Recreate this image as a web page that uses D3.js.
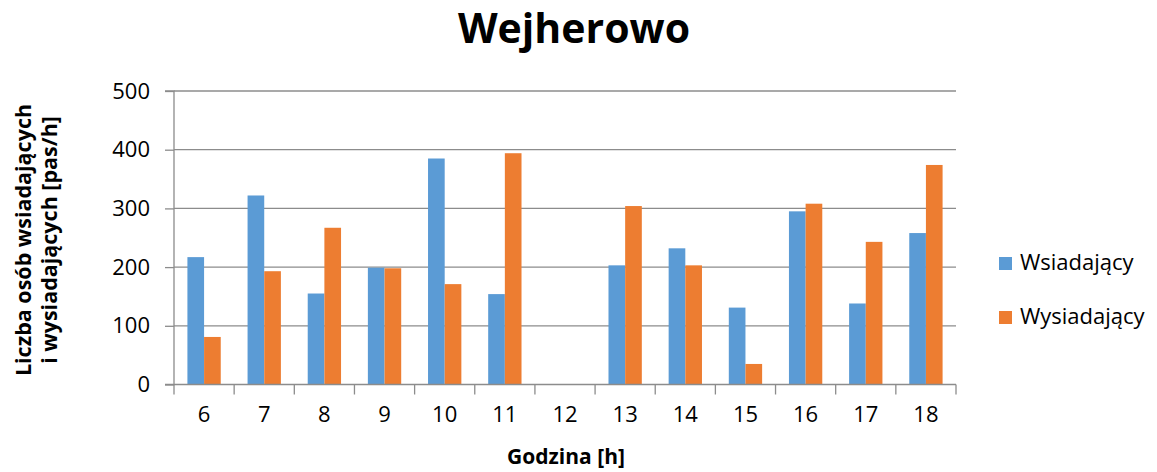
<!DOCTYPE html>
<html><head><meta charset="utf-8">
<script src="https://cdn.jsdelivr.net/npm/d3@7"></script>
<style>body{margin:0;background:#fff}svg{display:block}text{font-family:"Open Sans","Liberation Sans",sans-serif;fill:#000}</style>
</head><body><svg id="c" width="1157" height="472"></svg>
<script>
const categories = ["6","7","8","9","10","11","12","13","14","15","16","17","18"];
const wsiadajacy = [217,322,155,199,385,154,0,203,232,131,295,138,258];
const wysiadajacy = [81,193,267,198,171,394,0,304,203,35,308,243,374];
const seriesNames = ["Wsiadający","Wysiadający"];
const colors = ["#5B9BD5","#ED7D31"];
const yTicks = [0,100,200,300,400,500];

const svg = d3.select("#c");
const L=174, R=956, T=91, B=384.5;
const x = d3.scaleBand().domain(categories).range([L,R]);
const y = d3.scaleLinear().domain([0,500]).range([B,T]);
const bw = x.bandwidth()*0.277;

// gridlines
svg.append("g").selectAll("line").data(yTicks.filter(d=>d>0)).join("line")
  .attr("x1",L).attr("x2",R).attr("y1",d=>y(d)).attr("y2",d=>y(d))
  .attr("stroke","#8c8c8c").attr("stroke-width",1.3);

// bars
const series=[wsiadajacy,wysiadajacy];
series.forEach((vals,si)=>{
  svg.append("g").selectAll("rect").data(vals.map((v,i)=>({c:categories[i],v}))).join("rect")
    .attr("x",d=>x(d.c)+x.bandwidth()/2 + (si-1)*bw)
    .attr("width",bw).attr("y",d=>y(d.v)).attr("height",d=>B-y(d.v))
    .attr("fill",colors[si]);
});

// y axis
const ya = d3.axisLeft(y).tickValues(yTicks).tickSize(9).tickPadding(15);
const gy = svg.append("g").attr("transform",`translate(${L},0)`).call(ya);
gy.select(".domain").attr("stroke","#8c8c8c").attr("stroke-width",1.3).attr("d",`M-9,${T}H0V${B}H-9`);
gy.selectAll(".tick line").attr("stroke","#8c8c8c").attr("stroke-width",1.3);
gy.selectAll(".tick text").attr("font-size",22).attr("fill","#222").style("font-family","'Open Sans',sans-serif");

// x axis
const xEdges = d3.range(categories.length+1).map(i=>L+i*x.step());
const gx = svg.append("g");
gx.append("line").attr("x1",L).attr("x2",R).attr("y1",B).attr("y2",B).attr("stroke","#8c8c8c").attr("stroke-width",1.3);
gx.selectAll("line.t").data(xEdges).join("line").attr("class","t")
  .attr("x1",d=>d).attr("x2",d=>d).attr("y1",B).attr("y2",B+10).attr("stroke","#8c8c8c").attr("stroke-width",1.3);
gx.selectAll("text").data(categories).join("text")
  .attr("x",d=>x(d)+x.bandwidth()/2).attr("y",B+37).attr("text-anchor","middle")
  .attr("font-size",22).attr("fill","#222").text(d=>d);

// title
svg.append("text").attr("x",574).attr("y",43).attr("text-anchor","middle")
  .attr("font-size",41).attr("font-weight","bold").text("Wejherowo");
// axis titles
svg.append("text").attr("x",566).attr("y",464).attr("text-anchor","middle")
  .attr("font-size",21).attr("font-weight","bold").text("Godzina [h]");
const yt = svg.append("text").attr("transform","translate(0,240) rotate(-90)").attr("text-anchor","middle")
  .attr("font-size",21.5).attr("font-weight","bold");
yt.append("tspan").attr("x",0).attr("y",31).text("Liczba osób wsiadających");
yt.append("tspan").attr("x",0).attr("y",57).text("i wysiadających [pas/h]");

// legend
const lg = svg.append("g");
seriesNames.forEach((n,i)=>{
  lg.append("rect").attr("x",999).attr("y",257+i*54).attr("width",13).attr("height",13).attr("fill",colors[i]);
  lg.append("text").attr("x",1020).attr("y",270+i*54).attr("font-size",22).attr("fill","#222").text(n);
});
</script></body></html>
